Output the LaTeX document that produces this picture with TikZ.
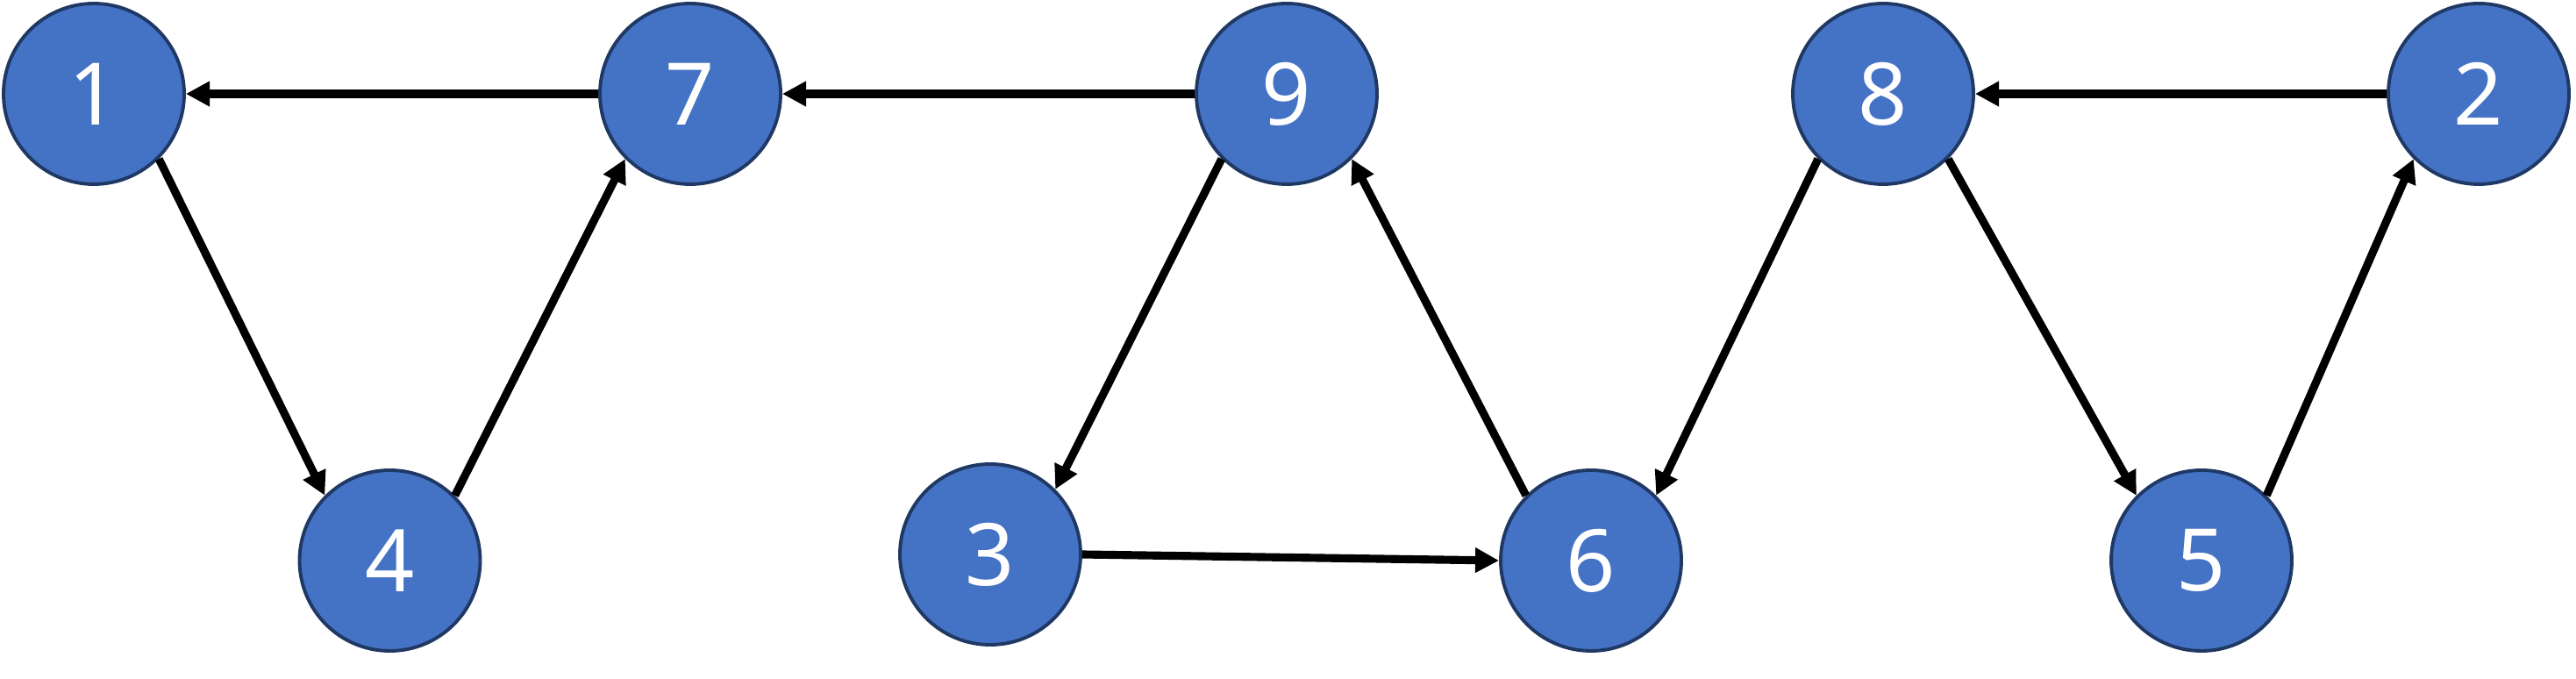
\documentclass[tikz,border=0pt]{standalone}
\usepackage{fontspec}
\newfontfamily\nodefont{Noto Sans}
\usetikzlibrary{arrows.meta}
\definecolor{nodeblue}{HTML}{4472C4}
\definecolor{nodeedge}{HTML}{1F3864}

\begin{document}
\begin{tikzpicture}[
    vertex/.style={circle, fill=nodeblue, draw=nodeedge, line width=1.1pt, minimum size=2.06cm, inner sep=0pt, text=white, font=\nodefont\fontsize{28}{34}\selectfont},
    link/.style={line width=2.6pt, -{Triangle[length=7.7pt, width=7.7pt]}}
]
\useasboundingbox (0,0) rectangle (29.37,7.74);
% Draw vertices
\foreach \name/\x/\y in {1/1.07/6.67, 7/7.87/6.67, 9/14.67/6.67, 8/21.47/6.67, 2/28.26/6.67, 4/4.445/1.35, 3/11.29/1.42, 6/18.14/1.35, 5/25.10/1.35} {
    \node[vertex] (n\name) at (\x,\y) {\name};
}

% Connect the vertices
\foreach \from/\fa/\to/\ta in {7/west/1/east, 9/west/7/east, 2/west/8/east, 3/east/6/west,
    1/south east/4/north west, 4/north east/7/south west, 9/south west/3/north east, 6/north west/9/south east,
    8/south west/6/north east, 8/south east/5/north west, 5/north east/2/south west} {
    \draw[link] (n\from.\fa) -- (n\to.\ta);
}
\end{tikzpicture}
\end{document}
